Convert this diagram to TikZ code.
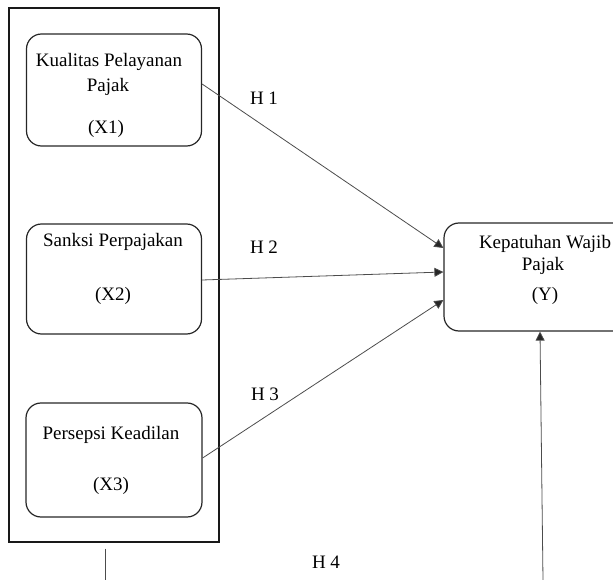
\documentclass[tikz,border=0pt]{standalone}
\usepackage{fontspec}
\setmainfont{Liberation Serif}
\usetikzlibrary{arrows.meta}
\begin{document}
\begin{tikzpicture}[x=1pt,y=-1pt,
  var node/.style={draw=black!85,line width=1.2pt,rounded corners=15pt,inner sep=0pt},
  frame node/.style={draw=black!90,line width=1.1pt,inner sep=0pt},
  lbl/.style={anchor=base,inner sep=0pt,font=\fontsize{19}{22}\selectfont},
  hyp/.style={draw=black!70,line width=0.8pt,-{Triangle[length=9pt,width=9pt,fill=black!85]}}]
  \useasboundingbox (0,0) rectangle (613,580);
  \clip (0,0) rectangle (613,580);

  \node[frame node,minimum width=210pt,minimum height=534pt] (grp) at (114,275) {};
  \node[var node,minimum width=175pt,minimum height=112pt] (x1) at (114,90) {};
  \node[var node,minimum width=175pt,minimum height=110pt] (x2) at (114,279) {};
  \node[var node,minimum width=176pt,minimum height=114pt] (x3) at (114,460) {};
  \node[var node,minimum width=198pt,minimum height=108pt] (y) at (543,277) {};

  \node[lbl] (x1a) at (109,67) {Kualitas Pelayanan};
  \node[lbl] (x1b) at (108,92) {Pajak};
  \node[lbl] (x1c) at (106,134) {(X1)};
  \node[lbl] (x2a) at (113,247) {Sanksi Perpajakan};
  \node[lbl] (x2c) at (113,300) {(X2)};
  \node[lbl] (x3a) at (111,439) {Persepsi Keadilan};
  \node[lbl] (x3c) at (111,490) {(X3)};
  \node[lbl] (ya) at (545,248) {Kepatuhan Wajib};
  \node[lbl] (yb) at (543,270) {Pajak};
  \node[lbl] (yc) at (545,300) {(Y)};

  \node[lbl] (h1) at (264,105) {H 1};
  \node[lbl] (h2) at (264,254) {H 2};
  \node[lbl] (h3) at (265,400) {H 3};
  \node[lbl] (h4) at (326,568) {H 4};

  \coordinate (h4l) at (105,580);
  \coordinate (h4r) at (543,580);

  \path[hyp]
    ([yshift=6pt]x1.east) edge ([yshift=29pt]y.west)
    ([yshift=-1pt]x2.east) edge ([yshift=5pt]y.west)
    ([yshift=2pt]x3.east) edge ([yshift=-23pt]y.west)
    (h4r) edge ([xshift=-3pt]y.south);
  \draw[draw=black!70,line width=0.8pt] ([xshift=-9pt,yshift=-6pt]grp.south) -- (h4l);
\end{tikzpicture}
\end{document}
